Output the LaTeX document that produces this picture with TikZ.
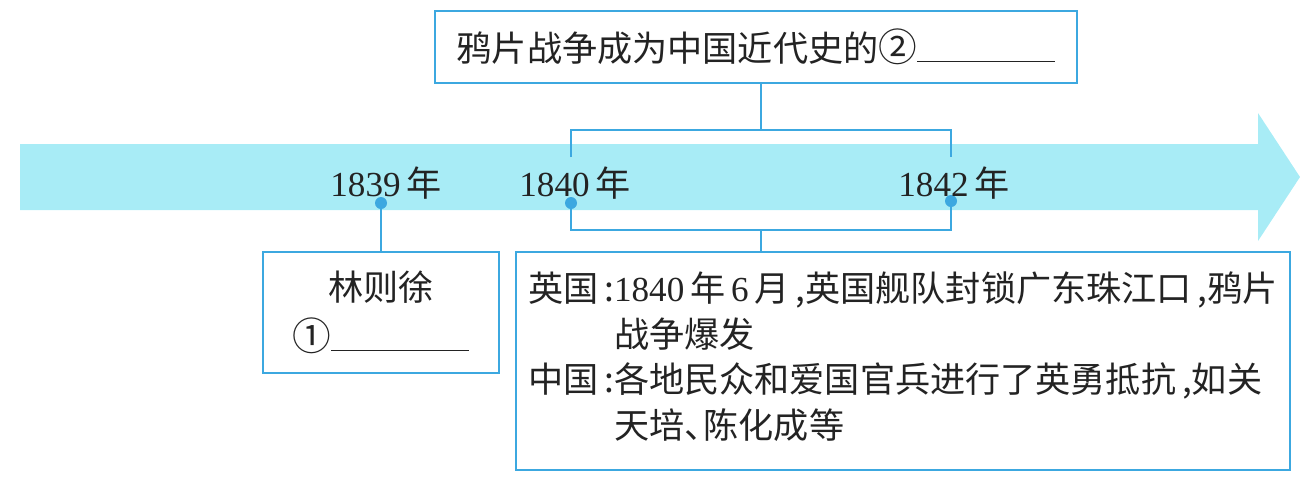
\documentclass[tikz,border=0pt]{standalone}
\usepackage{fontspec}
\setmainfont{Liberation Serif}
\newfontfamily\cjk{Noto Sans CJK SC}
\usetikzlibrary{positioning,calc}
\definecolor{bandcyan}{RGB}{168,236,246}
\definecolor{lineblue}{RGB}{60,168,224}
\definecolor{inkgray}{RGB}{35,35,35}

\begin{document}
\begin{tikzpicture}[x=0.02cm, y=-0.02cm,
    box/.style={draw=lineblue, line width=1.1pt, inner sep=0pt, text=inkgray, font=\fontsize{20}{24.4}\selectfont},
    dot/.style={circle, fill=lineblue, minimum size=0.24cm, inner sep=0pt},
    year/.style={text=inkgray, font=\fontsize{20}{24}\selectfont, inner sep=0pt},
    link/.style={draw=lineblue, line width=1.1pt}
]
\useasboundingbox (0,0) rectangle (1316,485);

% time band
\fill[bandcyan] (20,144) -- (1258,144) -- (1258,113) -- (1300,177) -- (1258,241) -- (1258,210) -- (20,210) -- cycle;

% years
\node[dot] (d1839) at (381,203) {};
\node[dot] (d1840) at (571,203) {};
\node[dot] (d1842) at (951,201) {};
\node[year] (y1839) at (386,183) {1839\,{\cjk 年}};
\node[year] (y1840) at (575,183) {1840\,{\cjk 年}};
\node[year] (y1842) at (954,183) {1842\,{\cjk 年}};

% boxes
\node[box, minimum width=12.84cm, minimum height=1.44cm] (top) at (756,47)
  {{\cjk 鸦片战争成为中国近代史的{\fontsize{22}{24}\selectfont ②}}\rule{2.76cm}{0.6pt}};
\node[box, minimum width=4.72cm, minimum height=2.42cm, align=center] (lin) at (381,312.5)
  {{\cjk 林则徐}\\[4pt]{\cjk{\fontsize{22}{24}\selectfont ①}}\rule{2.76cm}{0.6pt}};
\node[box, minimum width=15.48cm, minimum height=4.36cm] (war) at (903,361)
  {\renewcommand{\arraystretch}{1.06}%
   \begin{tabular}{@{}l@{}l@{}}
   {\cjk 英国\,:}&1840\,{\cjk 年}\,6\,{\cjk 月\,,英国舰队封锁广东珠江口\,,鸦片}\\
   &{\cjk 战争爆发}\\
   {\cjk 中国\,:}&{\cjk 各地民众和爱国官兵进行了英勇抵抗\,,如关}\\
   &{\cjk 天培、\kern-0.45em陈化成等}
   \end{tabular}};

% brackets and links
\coordinate (brT) at (761,130);
\coordinate (brL) at (571,157);
\coordinate (brR) at (951,157);
\coordinate (brB) at (761,230);
\draw[link] (top.south -| brT) -- (brT);
\draw[link] (brL) |- (brT) -| (brR);
\draw[link] (d1840) |- (brB) -| (d1842);
\draw[link] (brB) -- (brB |- war.north);
\draw[link] (d1839) -- (d1839 |- lin.north);
\end{tikzpicture}
\end{document}
